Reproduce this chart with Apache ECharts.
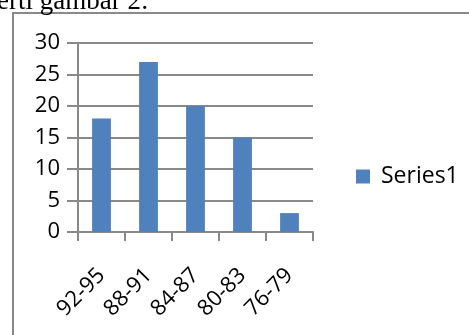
<!DOCTYPE html>
<html>
<head>
<meta charset="utf-8">
<script src="https://cdn.jsdelivr.net/npm/echarts@6/dist/echarts.min.js"></script>
<style>
    html, body { margin: 0; padding: 0; background: #fff; }
    #chart { width: 469px; height: 335px; }
</style>
</head>
<body>
<div id="chart"></div>
<script>
// data
let categories = ['92-95', '88-91', '84-87', '80-83', '76-79'];
let series1 = [18, 27, 20, 15, 3];
let seriesName = 'Series1';
let yMin = 0, yMax = 30, yStep = 5;

const lineColor = '#898989';
const font = 'Open Sans';

let chart = echarts.init(document.getElementById('chart'));

let option = {
    animation: false,
    backgroundColor: '#fff',
    grid: {
        left: 78,
        right: 156,
        top: 43,
        bottom: 103
    },
    legend: {
        left: 351,
        top: 160,
        itemWidth: 14,
        itemHeight: 14,
        icon: 'rect',
        textStyle: { fontFamily: font, fontSize: 23, color: '#000', padding: [0, 0, 0, 6] },
        data: [seriesName]
    },
    xAxis: {
        type: 'category',
        data: categories,
        boundaryGap: true,
        axisLine: { lineStyle: { color: lineColor, width: 2 } },
        axisTick: { show: true, length: 9, lineStyle: { color: lineColor, width: 2 } },
        axisLabel: {
            rotate: 45,
            margin: 40,
            interval: 0,
            fontFamily: font,
            fontSize: 22,
            color: '#000'
        }
    },
    yAxis: {
        type: 'value',
        min: yMin,
        max: yMax,
        interval: yStep,
        axisLine: { show: true, lineStyle: { color: lineColor, width: 2 } },
        axisTick: { show: true, inside: false, length: 11, lineStyle: { color: lineColor, width: 2 } },
        splitLine: { show: true, lineStyle: { color: lineColor, width: 2 } },
        axisLabel: {
            margin: 18,
            fontFamily: font,
            fontSize: 22,
            color: '#000'
        }
    },
    series: [{
        name: seriesName,
        type: 'bar',
        data: series1,
        barWidth: '40%',
        itemStyle: { color: '#4F81BD' }
    }],
    graphic: [
        {
            // chart frame
            type: 'rect',
            shape: { x: 13, y: 13, width: 470, height: 340 },
            style: { fill: 'none', stroke: lineColor, lineWidth: 2 },
            silent: true
        },
        {
            // caption cut off at the top of the picture
            type: 'text',
            x: -3,
            y: 15,
            style: {
                text: 'erti gambar 2:',
                font: '27px "Liberation Serif"',
                verticalAlign: 'bottom',
                fill: '#000'
            },
            silent: true
        }
    ]
};

chart.setOption(option);
</script>
</body>
</html>
